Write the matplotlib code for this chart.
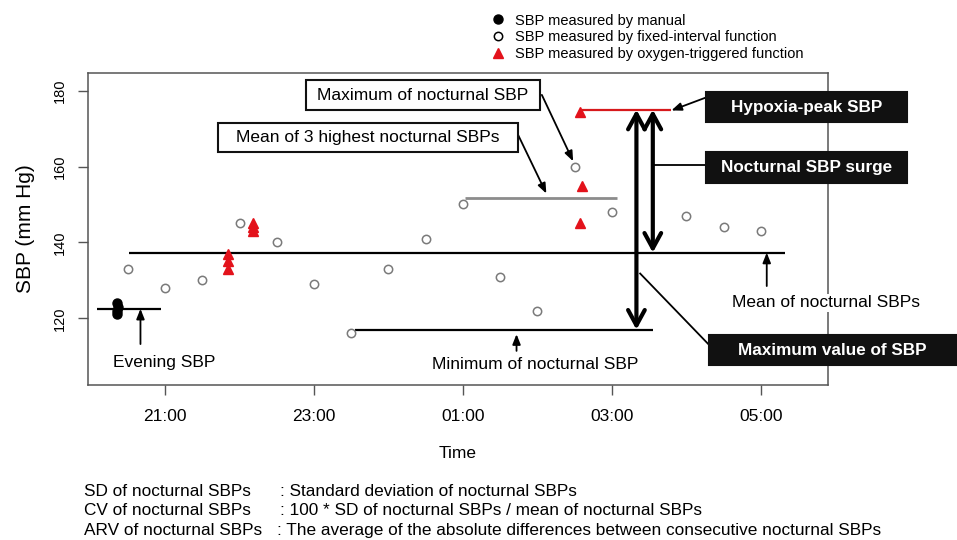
import matplotlib.pyplot as plt
from matplotlib.patches import Rectangle

plt.rcParams['font.family'] = ['Liberation Sans', 'DejaVu Sans']

# time axis in hours: 21 = 21:00, 25 = 01:00 next day
manual_t = [20.36, 20.37, 20.35, 20.36]
manual_sbp = [124, 123, 122, 121]

fixed_t = [20.5, 21.0, 21.5, 22.0, 22.5, 23.0, 23.5, 24.0, 24.5, 25.0,
           25.5, 26.0, 26.5, 27.0, 28.0, 28.5, 29.0]
fixed_sbp = [133, 128, 130, 145, 140, 129, 116, 133, 141, 150,
             131, 122, 160, 148, 147, 144, 143]

oxygen_t = [21.84, 21.84, 21.84, 22.18, 22.18, 22.18, 26.57, 26.6, 26.57]
oxygen_sbp = [137, 135, 133, 145, 144, 143, 174.5, 155, 145]

tick_pos = [21, 23, 25, 27, 29]
tick_lab = ['21:00', '23:00', '01:00', '03:00', '05:00']
ytick_pos = [120, 140, 160, 180]

# summary levels
evening_sbp = 122.5
mean_noct = 137.3
mean_top3 = 151.8
min_noct = 117
peak_sbp = 175

fig = plt.figure(figsize=(9.57, 5.4), dpi=100)
ax = fig.add_axes([0.092, 0.287, 0.773, 0.578])

# horizontal reference lines
ax.hlines(evening_sbp, 20.09, 20.95, color='black', lw=1.6)
ax.hlines(mean_noct, 20.52, 29.32, color='black', lw=1.6)
ax.hlines(mean_top3, 25.03, 27.07, color='#8c8c8c', lw=2)
ax.hlines(min_noct, 23.55, 27.55, color='black', lw=1.6)
ax.hlines(peak_sbp, 26.6, 27.8, color='#d7191c', lw=1.6)

# points
ax.plot(fixed_t, fixed_sbp, 'o', ms=6, mfc='white', mec='#7a7a7a', mew=1.1, zorder=4)
ax.plot(oxygen_t, oxygen_sbp, '^', ms=7.5, color='#e3121b', zorder=4)
ax.plot(manual_t, manual_sbp, 'o', ms=6.5, color='black', zorder=4)

# double arrows
big = dict(arrowstyle='<->,head_length=0.55,head_width=0.3', lw=3, color='black',
           mutation_scale=20, shrinkA=0, shrinkB=0)
ax.annotate('', xy=(27.33, peak_sbp), xytext=(27.33, min_noct), arrowprops=big)
ax.annotate('', xy=(27.55, peak_sbp), xytext=(27.55, mean_noct), arrowprops=big)

thin = dict(arrowstyle='-|>,head_length=0.5,head_width=0.2', lw=1.3, color='black',
            mutation_scale=12, shrinkA=0, shrinkB=0)
ax.annotate('', xy=(20.67, evening_sbp), xytext=(20.67, 113.2), arrowprops=thin)
ax.annotate('', xy=(25.72, 115.8), xytext=(25.72, 111.4), arrowprops=thin)
ax.annotate('', xy=(29.08, mean_noct), xytext=(29.08, 128.5), arrowprops=thin)
ax.annotate('', xy=(26.48, 161.4), xytext=(26.06, 178.9), arrowprops=thin)
ax.annotate('', xy=(26.12, 152.9), xytext=(25.74, 168.4), arrowprops=thin)
ax.annotate('', xy=(27.80, 174.8), xytext=(28.29, 178.4), arrowprops=thin, annotation_clip=False)
ax.plot([28.25, 27.55], [160.3, 160.3], color='black', lw=1.3, clip_on=False)
ax.plot([28.29, 27.38], [113.3, 131.8], color='black', lw=1.3, clip_on=False)

# plain labels
ax.text(20.30, 108.4, 'Evening SBP', fontsize=12.5, va='center', ha='left')
ax.text(25.97, 107.9, 'Minimum of nocturnal SBP', fontsize=12.5, va='center', ha='center')
ax.text(29.88, 124.1, 'Mean of nocturnal SBPs', fontsize=12.5, va='center', ha='center',
        zorder=6, clip_on=False, bbox=dict(facecolor='white', edgecolor='none', pad=1))

# boxed labels
def box(x0, x1, y0, y1, label, dark):
    ax.add_patch(Rectangle((x0, y0), x1 - x0, y1 - y0, clip_on=False, zorder=7,
                           facecolor='#111111' if dark else 'white',
                           edgecolor='#111111', lw=1.5))
    ax.text((x0 + x1) / 2, (y0 + y1) / 2, label, ha='center', va='center', zorder=8,
            fontsize=12.3 if dark else 12.5, fontweight='bold' if dark else 'normal',
            color='white' if dark else 'black', clip_on=False)

box(22.89, 26.03, 174.8, 182.7, 'Maximum of nocturnal SBP', False)
box(21.715, 25.74, 163.8, 171.6, 'Mean of 3 highest nocturnal SBPs', False)
box(28.26, 30.96, 171.7, 179.6, 'Hypoxia-peak SBP', True)
box(28.26, 30.96, 155.7, 163.8, 'Nocturnal SBP surge', True)
box(28.30, 31.63, 107.6, 115.6, 'Maximum value of SBP', True)

# axes styling
ax.set_xlim(19.966, 29.9)
ax.set_ylim(102.4, 184.7)
ax.set_xticks(tick_pos)
ax.set_xticklabels(tick_lab, fontsize=12.5)
ax.set_yticks(ytick_pos)
ax.set_yticklabels([str(v) for v in ytick_pos], rotation=90, va='center', fontsize=10.5)
ax.tick_params(axis='x', length=7, width=1, color='#555555', pad=10)
ax.tick_params(axis='y', length=7, width=1, color='#555555', pad=8)
for s in ax.spines.values():
    s.set_color('#555555')
    s.set_linewidth(1.1)
ax.set_xlabel('Time', fontsize=12.5, labelpad=16)
ax.set_ylabel('SBP (mm Hg)', fontsize=15, labelpad=13)

# legend
handles = [
    plt.Line2D([0], [0], marker='o', ls='none', color='black', ms=6.5),
    plt.Line2D([0], [0], marker='o', ls='none', mfc='white', mec='black', mew=1.1, ms=6),
    plt.Line2D([0], [0], marker='^', ls='none', color='#e3121b', ms=7.5),
]
labels = ['SBP measured by manual', 'SBP measured by fixed-interval function',
          'SBP measured by oxygen-triggered function']
fig.legend(handles, labels, loc='upper left', bbox_to_anchor=(0.514, 0.975), frameon=False,
           fontsize=10.5, handlelength=0.8, handletextpad=0.78, labelspacing=0.2,
           borderpad=0, borderaxespad=0)

# definitions below the chart
rows = [('SD of nocturnal SBPs', ': Standard deviation of nocturnal SBPs', 280),
        ('CV of nocturnal SBPs', ': 100 * SD of nocturnal SBPs / mean of nocturnal SBPs', 280),
        ('ARV of nocturnal SBPs', ': The average of the absolute differences between consecutive nocturnal SBPs', 277)]
for i, (a, b, xc) in enumerate(rows):
    y = 1 - (491.7 + 19.2 * i) / 540
    fig.text(84 / 957, y, a, fontsize=12.4, va='center')
    fig.text(xc / 957, y, b, fontsize=12.4, va='center')

fig.savefig('out.png', dpi=100)
